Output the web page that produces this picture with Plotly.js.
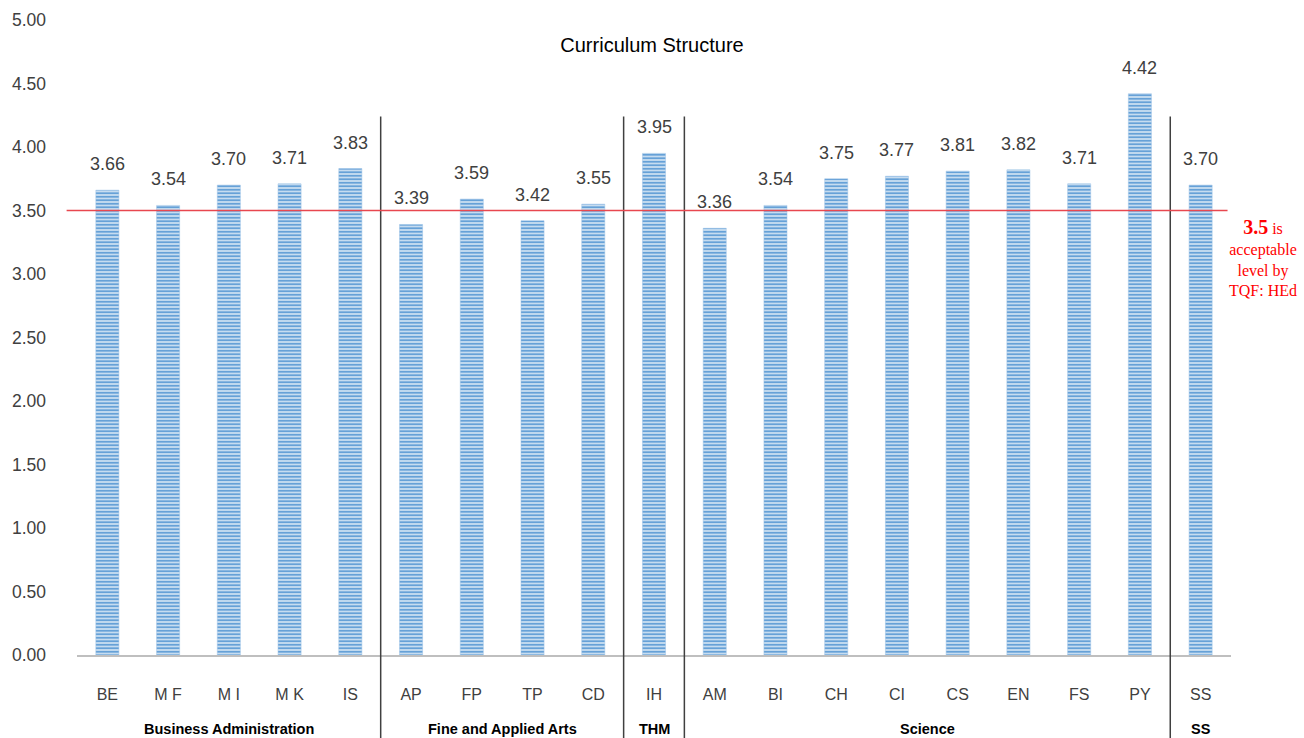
<!DOCTYPE html>
<html>
<head>
<meta charset="utf-8">
<script src="https://cdn.plot.ly/plotly-3.0.1.min.js"></script>
<style>html,body{margin:0;padding:0;background:#fff;}#chart{width:1304px;height:738px;}</style>
</head>
<body>
<div id="chart"></div>
<script>
const categories = ["BE","M F","M I","M K","IS","AP","FP","TP","CD","IH","AM","BI","CH","CI","CS","EN","FS","PY","SS"];
const values = [3.66,3.54,3.70,3.71,3.83,3.39,3.59,3.42,3.55,3.95,3.36,3.54,3.75,3.77,3.81,3.82,3.71,4.42,3.70];
const groupNames = ["Business Administration","Fine and Applied Arts","THM","Science","SS"];
const groupSizes = [5,4,1,8,1];
const threshold = 3.5;
const yTicks = [0,0.5,1,1.5,2,2.5,3,3.5,4,4.5,5];

const font = "Liberation Sans, Arial, sans-serif";
const idx = categories.map((c,i)=>i);

const bar = {
  type: "bar",
  x: idx,
  y: values,
  width: 0.38,
  marker: {
    color: "#bdd7ee",
    line: {color: "#9dc3e6", width: 0.5},
    pattern: {shape: "-", fgcolor: "#5b9bd5", bgcolor: "#c6dcf0", size: 3.5, solidity: 0.45}
  },
  hoverinfo: "x+y"
};

const annotations = [];
values.forEach((v,i)=>{
  annotations.push({x: i, y: v, xref: "x", yref: "y", text: v.toFixed(2), showarrow: false,
    yanchor: "middle", yshift: 26, font: {family: font, size: 18, color: "#404040"}});
});
// group labels
let start = 0;
const shapes = [];
groupNames.forEach((g,k)=>{
  const n = groupSizes[k];
  const center = start + (n-1)/2;
  annotations.push({x: center, y: -0.117, xref: "x", yref: "paper", text: "<b>"+g+"</b>", showarrow: false,
    yanchor: "middle", font: {family: font, size: 14.5, color: "#000"}});
  start += n;
  if (k < groupNames.length-1) {
    shapes.push({type: "line", xref: "x", yref: "paper", x0: start-0.5, x1: start-0.5, y0: -0.14, y1: 0.848,
      line: {color: "#404040", width: 1.5}});
  }
});
// threshold line
shapes.push({type: "line", xref: "paper", yref: "y", x0: -0.009, x1: 0.997, y0: threshold, y1: threshold,
  line: {color: "#e8474f", width: 1.5}});

annotations.push({xref: "paper", yref: "paper", x: 1.0275, y: 0.694, xanchor: "center", yanchor: "top",
  showarrow: false, align: "center",
  text: "<b><span style='font-size:20px'>3.5</span></b> is<br>acceptable<br>level by<br>TQF: HEd",
  font: {family: "Liberation Serif, Times New Roman, serif", size: 16, color: "#ff0000"}});

const layout = {
  width: 1304, height: 738,
  margin: {l: 77, r: 73, t: 20, b: 83},
  paper_bgcolor: "#fff", plot_bgcolor: "#fff",
  showlegend: false,
  title: {text: "Curriculum Structure", x: 0.5, xanchor: "center", y: 0.939, yanchor: "middle",
    font: {family: font, size: 20, color: "#000"}},
  xaxis: {
    tickmode: "array", tickvals: idx, ticktext: categories,
    range: [-0.5, categories.length-0.5],
    showline: true, linecolor: "#bfbfbf", linewidth: 2,
    showgrid: false, zeroline: false, ticks: "",
    ticklabelstandoff: 24,
    tickfont: {family: font, size: 16, color: "#404040"}
  },
  yaxis: {
    range: [0, 5], tickmode: "array", tickvals: yTicks, ticktext: yTicks.map(v=>v.toFixed(2)),
    showgrid: false, zeroline: false, showline: false, ticks: "",
    ticklabelstandoff: 30,
    tickfont: {family: font, size: 17.5, color: "#404040"}
  },
  shapes: shapes,
  annotations: annotations
};

Plotly.newPlot("chart", [bar], layout, {staticPlot: true, displayModeBar: false});
</script>
</body>
</html>
